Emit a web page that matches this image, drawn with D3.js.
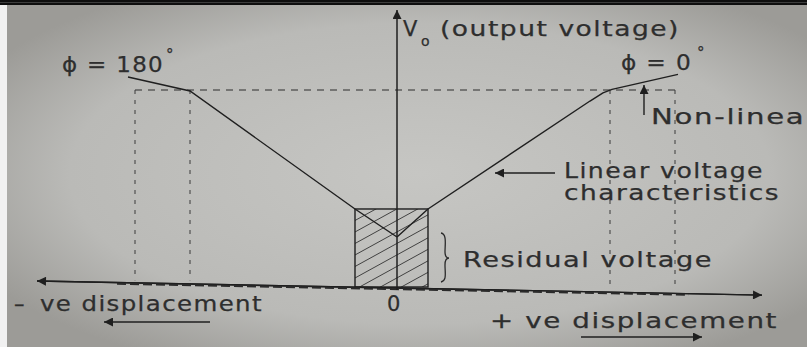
<!DOCTYPE html>
<html><head><meta charset="utf-8">
<script src="https://cdn.jsdelivr.net/npm/d3@7/dist/d3.min.js"></script>
<style>html,body{margin:0;padding:0;overflow:hidden;background:#b8b8b4}</style>
</head><body><svg id="c" width="807" height="347"></svg>
<script>
// ---------- data (displacement units, voltage units) ----------
const phase180Curve = [[-13.45,106.6],[-10.35,99.5],[-2.1,39.6],[0,25.4]];
const phase0Curve   = [[0,25.4],[1.55,39.6],[9.65,94.4],[10.3,98.5],[10.75,100.3],[14.05,107.9]];
const saturationLevel = 100;
const guideXs = [-13.1, -10.35, 10.65, 13.9];
const guideBottoms = [3.4, 3.4, 0.4, -0.6];
const residualBox = {x0:-2.1, x1:1.55, v0:0, v1:39.6};
const xAxisEnds = [[-18,3.05],[18.25,-4.1]];
const yAxisEnds = [[0,-1.5],[0,140.6]];
const labels = {
  vo: "V", voSub: "o", voRest: "(output voltage)",
  p180: "\u03D5 = 180", p0: "\u03D5 = 0", deg: "\u00B0",
  nonlin: "Non-linear", lin1: "Linear voltage", lin2: "characteristics",
  resid: "Residual voltage", dash: "\u2013", neg: "ve displacement", zero: "0", pos: "+ ve displacement"
};

// ---------- scales ----------
const x = d3.scaleLinear().domain([-20,20]).range([-3,797]);
const y = d3.scaleLinear().domain([0,100]).range([287,90]);

const svg = d3.select("#c");
const defs = svg.append("defs");
const g = defs.append("radialGradient").attr("id","bg").attr("cx","0.52").attr("cy","0.5").attr("r","0.62");
g.append("stop").attr("offset","0").attr("stop-color","#c6c6c3");
g.append("stop").attr("offset","0.7").attr("stop-color","#babab7");
g.append("stop").attr("offset","1").attr("stop-color","#9c9b97");
svg.append("rect").attr("width",807).attr("height",347).attr("fill","url(#bg)");
svg.append("rect").attr("x",0).attr("y",0).attr("width",807).attr("height",5).attr("fill","#0e0e0e");
svg.append("rect").attr("x",0).attr("y",2).attr("width",807).attr("height",0.8).attr("fill","#4a4a4a");
svg.append("rect").attr("x",0).attr("y",5).attr("width",7).attr("height",342).attr("fill","#f1f1f1");

const ink = "#1f1f1f", txt = "#2e2e2e";
const line = d3.line().x(d=>x(d[0])).y(d=>y(d[1]));

// arrow marker
defs.append("marker").attr("id","ah").attr("viewBox","0 0 10 10").attr("refX",10).attr("refY",5)
  .attr("markerWidth",14).attr("markerHeight",9).attr("markerUnits","userSpaceOnUse").attr("orient","auto")
  .append("path").attr("d","M0,0L10,5L0,10Z").attr("fill",ink);

// guides
svg.append("line").attr("x1",x(guideXs[0])).attr("x2",x(guideXs[3]))
  .attr("y1",y(saturationLevel)).attr("y2",y(saturationLevel))
  .attr("stroke","#2c2c2c").attr("stroke-width",1).attr("stroke-dasharray","7,6");
svg.selectAll(".gv").data(guideXs).enter().append("line")
  .attr("x1",d=>x(d)).attr("x2",d=>x(d))
  .attr("y1",y(saturationLevel)).attr("y2",(d,i)=>y(guideBottoms[i]))
  .attr("stroke","#3a3a3a").attr("stroke-width",1).attr("stroke-dasharray","4,6");

// residual box with hatch
const bx0=x(residualBox.x0), bx1=x(residualBox.x1), by0=y(residualBox.v1), by1=y(residualBox.v0);
defs.append("clipPath").attr("id","bc").append("rect").attr("x",bx0).attr("y",by0).attr("width",bx1-bx0).attr("height",by1-by0);
const hatch = svg.append("g").attr("clip-path","url(#bc)");
d3.range(-2,12).forEach(k=>{
  hatch.append("line").attr("x1",bx0).attr("x2",bx1)
    .attr("y1",by0+k*11.5).attr("y2",by0+k*11.5-(bx1-bx0)*0.55)
    .attr("stroke","#333").attr("stroke-width",0.9);
});
svg.append("rect").attr("x",bx0).attr("y",by0).attr("width",bx1-bx0).attr("height",by1-by0)
  .attr("fill","none").attr("stroke",ink).attr("stroke-width",1.4);

// axes
svg.append("path").attr("d",line(xAxisEnds)).attr("stroke",ink).attr("stroke-width",1.4).attr("fill","none").attr("marker-end","url(#ah)");
svg.append("path").attr("d",line([xAxisEnds[1],xAxisEnds[0]])).attr("stroke",ink).attr("stroke-width",1.4).attr("fill","none").attr("marker-end","url(#ah)");
const axisAt = t => [xAxisEnds[0][0]+(xAxisEnds[1][0]-xAxisEnds[0][0])*t, xAxisEnds[0][1]+(xAxisEnds[1][1]-xAxisEnds[0][1])*t];
const tA=(-14-xAxisEnds[0][0])/(xAxisEnds[1][0]-xAxisEnds[0][0]), tB=(14.6-xAxisEnds[0][0])/(xAxisEnds[1][0]-xAxisEnds[0][0]);
const pA=axisAt(tA), pB=axisAt(tB);
svg.append("line").attr("x1",x(pA[0])).attr("y1",y(pA[1])+1.2).attr("x2",x(pB[0])).attr("y2",y(pB[1])+1.2)
  .attr("stroke","#2a2a2a").attr("stroke-width",2).attr("stroke-dasharray","9,4");
svg.append("path").attr("d",line(yAxisEnds)).attr("stroke",ink).attr("stroke-width",1.5).attr("fill","none").attr("marker-end","url(#ah)");

// characteristics
svg.append("path").attr("d",line(phase180Curve)).attr("stroke",ink).attr("stroke-width",1.4).attr("fill","none");
svg.append("path").attr("d",line(phase0Curve)).attr("stroke",ink).attr("stroke-width",1.4).attr("fill","none").attr("stroke-linejoin","round");

// annotation arrows
const arr = (x1,y1,x2,y2)=>svg.append("line").attr("x1",x1).attr("y1",y1).attr("x2",x2).attr("y2",y2)
  .attr("stroke",ink).attr("stroke-width",1.4).attr("marker-end","url(#ah)");
arr(x(12.35),115,x(12.35),85);
arr(555,173,495,173);
arr(210,322,104,322);
arr(581,337,702,337);

// brace
svg.append("path").attr("d","M441,233 C447,234 445,244 445,252 C445,256 446,258 449,258 C446,258 445,261 445,265 C445,273 447,281 441,282")
  .attr("stroke","#2a2a2a").attr("stroke-width",1.3).attr("fill","none");

// texts
const F = "'DejaVu Sans', sans-serif";
const T = (s,xx,yy,size,len)=>{const t=svg.append("text").attr("x",xx).attr("y",yy).attr("font-family",F)
  .attr("font-size",size).attr("fill",txt).attr("stroke",txt).attr("stroke-width",0.25).text(s);
  if(len) t.attr("letter-spacing",1.2).attr("textLength",len).attr("lengthAdjust","spacingAndGlyphs"); return t;};
T(labels.vo,403,36,21);
T(labels.voSub,421,46,14);
T(labels.voRest,440,36,21,240);
T(labels.p180,62,72,21,102);
T(labels.deg,166,60,15);
T(labels.p0,621,70,21,71);
T(labels.deg,697,58,15);
T(labels.nonlin,651,124,21,168);
T(labels.lin1,564,178,21,200);
T(labels.lin2,564,200,21,216);
T(labels.resid,463,267,21,250);
T(labels.dash,14,311,21);
T(labels.neg,40,311,21,223);
T(labels.zero,387,311,21);
T(labels.pos,490,328,21,288);
</script></body></html>
